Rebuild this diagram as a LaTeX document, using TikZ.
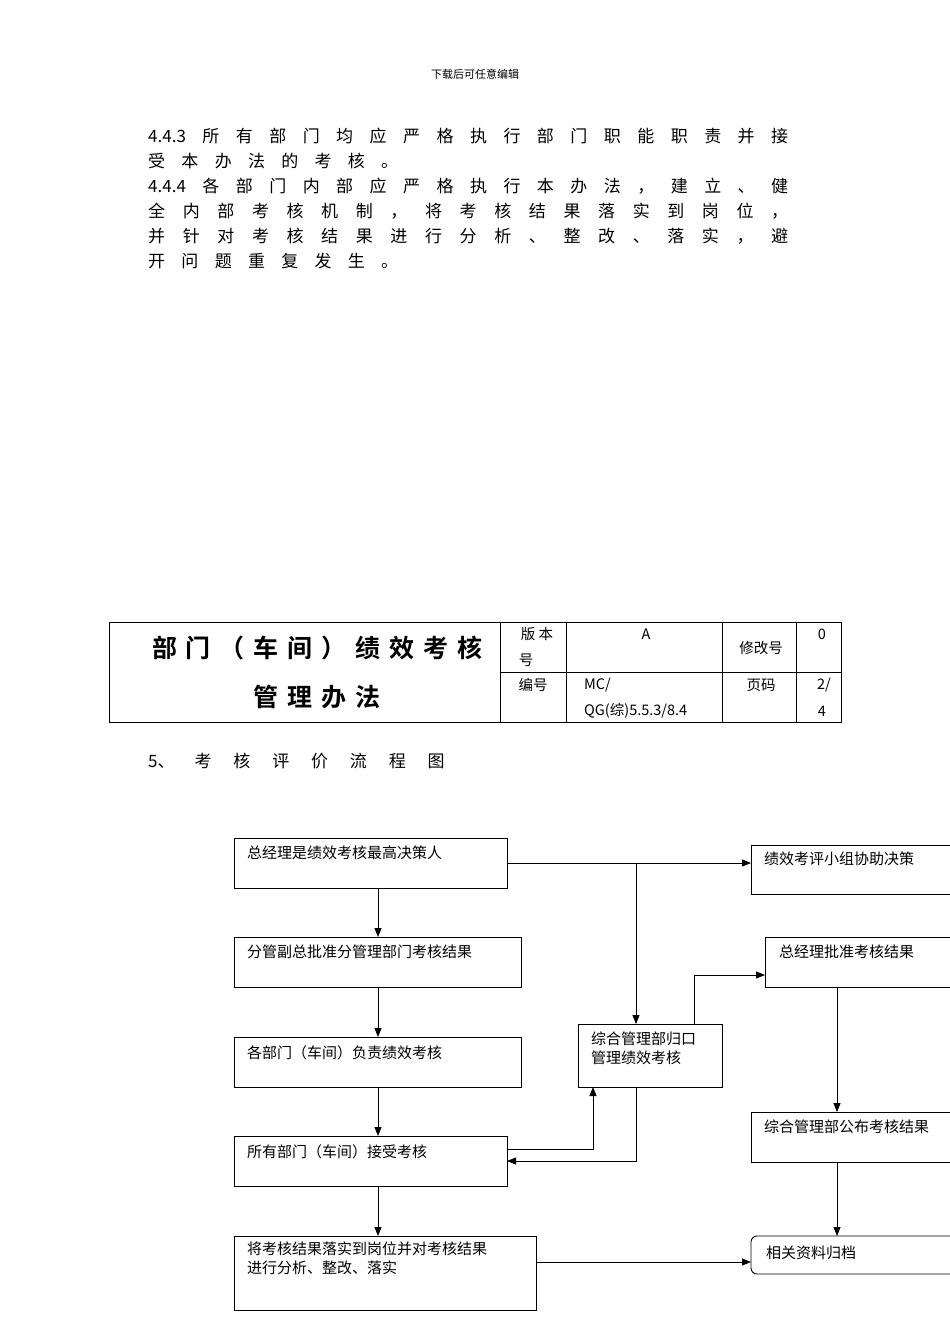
\documentclass[tikz,border=0pt]{standalone}
\usepackage{fontspec}
\setmainfont{Noto Sans CJK SC}
\newfontfamily\cjkb{Noto Sans CJK SC Bold}
\usetikzlibrary{arrows.meta}
\newcommand{\spr}[2]{\makebox[#1pt][s]{\spaceskip=0pt plus 1fil #2}}
\begin{document}
\begin{tikzpicture}[x=1pt,y=-1pt,
  bx/.style={draw,line width=0.9pt},
  lab/.style={anchor=north west,inner sep=0pt,font=\fontsize{15}{19}\selectfont,align=left},
  arr/.style={-{Triangle[length=9pt,width=7pt]},line width=0.9pt},
  ln/.style={line width=0.9pt},
  body/.style={anchor=west,inner sep=0pt,font=\fontsize{17}{20}\selectfont},
  cell/.style={inner sep=0pt,font=\fontsize{14.5}{18}\selectfont}]
\useasboundingbox (0,0) rectangle (950,1344);
\node[inner sep=0pt,font=\fontsize{11}{13}\selectfont] (hd) at (475,74) {下载后可任意编辑};
\node[body] (l1) at (148,136) {\spr{640}{4.4.3 所 有 部 门 均 应 严 格 执 行 部 门 职 能 职 责 并 接}};
\node[body] (l2) at (148,161) {\spr{250}{受 本 办 法 的 考 核 。}};
\node[body] (l3) at (148,186) {\spr{640}{4.4.4 各 部 门 内 部 应 严 格 执 行 本 办 法 ， 建 立 、 健}};
\node[body] (l4) at (148,211) {\spr{640}{全 内 部 考 核 机 制 ， 将 考 核 结 果 落 实 到 岗 位 ，}};
\node[body] (l5) at (148,236) {\spr{640}{并 针 对 考 核 结 果 进 行 分 析 、 整 改 、 落 实 ， 避}};
\node[body] (l6) at (148,261) {\spr{250}{开 问 题 重 复 发 生 。}};
% table
\draw[ln] (109,622) rectangle (841,722);
\draw[ln] (500,622) -- (500,722) (566,622) -- (566,722) (722,622) -- (722,722) (796,622) -- (796,722) (500,672) -- (841,672);
\node[inner sep=0pt,font=\cjkb\fontsize{25}{28}\selectfont] (t1) at (317,648) {\spr{330}{部 门 （ 车 间 ） 绩 效 考 核}};
\node[inner sep=0pt,font=\cjkb\fontsize{25}{28}\selectfont] (t2) at (317,697) {\spr{127}{管 理 办 法}};
\node[cell] (c1) at (537,634) {版\ 本};
\node[cell] (c2) at (526,660) {号};
\node[cell] (c3) at (646,634) {A};
\node[cell] (c4) at (761,648) {修改号};
\node[cell] (c5) at (822,634) {0};
\node[cell] (c6) at (533,685) {编号};
\node[cell,anchor=west] (c7) at (584,685) {MC/};
\node[cell,anchor=west] (c8) at (584,711) {QG(综)5.5.3/8.4};
\node[cell] (c9) at (761,685) {页码};
\node[cell] (c10) at (824,685) {2/};
\node[cell] (c11) at (822,711) {4};
\node[body] (sec) at (148,761) {5、\hspace{20pt}\spr{250}{考 核 评 价 流 程 图}};
% flowchart boxes
\draw[bx] (234,838) rectangle (507,888) coordinate (b1e);
\node[lab] (b1) at (247,846) {总经理是绩效考核最高决策人};
\draw[bx] (234,937) rectangle (521,987);
\node[lab] (b2) at (247,945) {分管副总批准分管理部门考核结果};
\draw[bx] (234,1037) rectangle (521,1087);
\node[lab] (b3) at (247,1045) {各部门（车间）负责绩效考核};
\draw[bx] (234,1136) rectangle (507,1186);
\node[lab] (b4) at (247,1144) {所有部门（车间）接受考核};
\draw[bx] (234,1236) rectangle (536,1310);
\node[lab] (b5) at (247,1242) {将考核结果落实到岗位并对考核结果\\进行分析、整改、落实};
\draw[bx] (578,1024) rectangle (722,1087);
\node[lab] (m) at (591,1032) {综合管理部归口\\管理绩效考核};
\draw[bx] (955,845) -- (751,845) -- (751,894) -- (955,894);
\node[lab] (g1) at (764,852) {绩效考评小组协助决策};
\draw[bx] (955,937) -- (765,937) -- (765,987) -- (955,987);
\node[lab] (g2) at (779,945) {总经理批准考核结果};
\draw[bx] (955,1112) -- (751,1112) -- (751,1162) -- (955,1162);
\node[lab] (g3) at (764,1120) {综合管理部公布考核结果};
\draw[bx,rounded corners=6pt] (960,1236) -- (751,1236) -- (751,1274) -- (960,1274);
\node[lab] (g4) at (766,1246) {相关资料归档};
% connectors
\coordinate (j1) at (636,863);
\draw[arr] (507,863) -- (751,863);
\draw[arr] (j1) -- (636,1024);
\draw[arr] (378,888) -- (378,937);
\draw[arr] (378,987) -- (378,1037);
\draw[arr] (378,1087) -- (378,1136);
\draw[arr] (378,1186) -- (378,1236);
\draw[arr] (507,1149) -- (593,1149) -- (593,1087);
\draw[arr] (636,1087) -- (636,1161) -- (507,1161);
\draw[arr] (694,1024) -- (694,975) -- (765,975);
\draw[arr] (837,987) -- (837,1112);
\draw[arr] (837,1162) -- (837,1236);
\draw[arr] (536,1262) -- (751,1262);
\end{tikzpicture}
\end{document}
